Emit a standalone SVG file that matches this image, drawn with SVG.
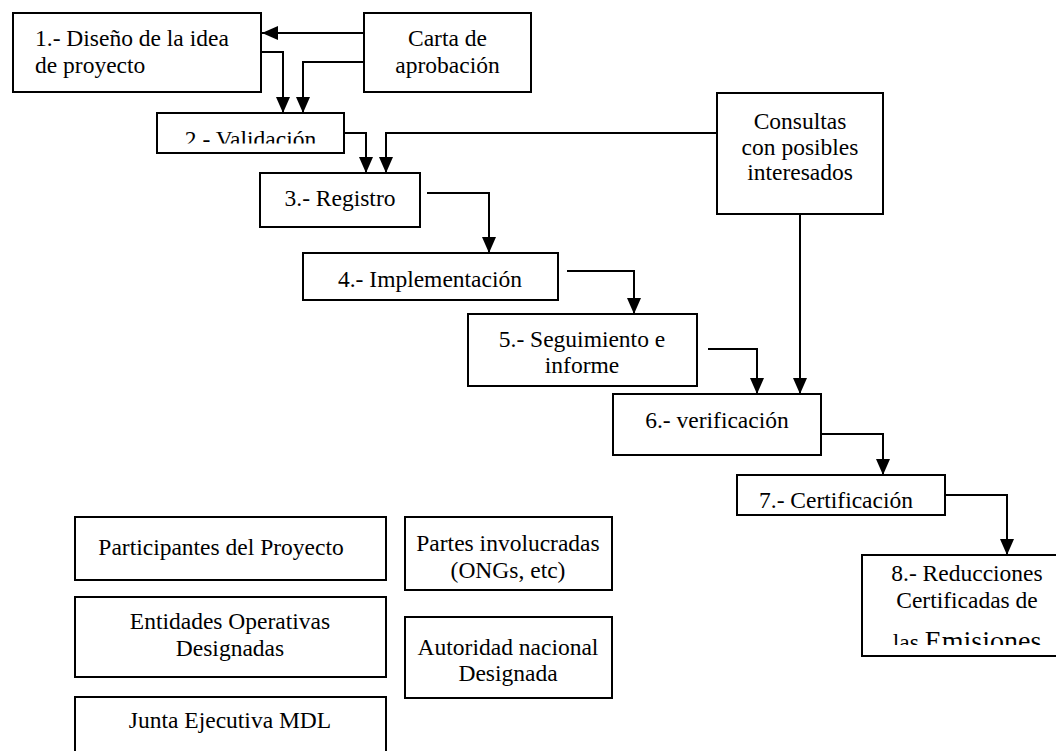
<svg xmlns="http://www.w3.org/2000/svg" width="1056" height="751" viewBox="0 0 1056 751">
<defs>
<style>
.box{fill:#fff;stroke:#000;stroke-width:2}
.t{font-family:'Liberation Serif','DejaVu Serif','Times New Roman',Times,serif;font-size:23.5px;fill:#000}
.c{text-anchor:middle}
.con{fill:none;stroke:#000;stroke-width:2;marker-end:url(#ah)}
</style>
<marker id="ah" markerUnits="userSpaceOnUse" markerWidth="16" markerHeight="14" refX="16" refY="7" orient="auto">
<path d="M0,0 L16,7 L0,14 z" fill="#000"/>
</marker>
<clipPath id="clip2"><rect x="157" y="113" width="187" height="30.5"/></clipPath>
<clipPath id="clip7"><rect x="737" y="470" width="208" height="39"/></clipPath>
<clipPath id="clip8"><rect x="862" y="555" width="200" height="90"/></clipPath>
</defs>
<rect width="1056" height="751" fill="#fff"/>

<g id="n1">
<rect class="box" x="13" y="13" width="248" height="79"/>
<text class="t" x="35" y="46">1.- Diseño de la idea</text>
<text class="t" x="35" y="73">de proyecto</text>
</g>
<g id="carta">
<rect class="box" x="364" y="13" width="167" height="79"/>
<text class="t c" x="447.5" y="46">Carta de</text>
<text class="t c" x="447.5" y="73">aprobación</text>
</g>
<g id="n2">
<rect class="box" x="157" y="113" width="187" height="40"/>
<text class="t c" x="250.5" y="147" clip-path="url(#clip2)">2.- Validación</text>
</g>
<g id="consultas">
<rect class="box" x="717" y="93" width="166" height="121"/>
<text class="t c" x="800" y="129">Consultas</text>
<text class="t c" x="800" y="155">con posibles</text>
<text class="t c" x="800" y="180">interesados</text>
</g>
<g id="n3">
<rect class="box" x="260" y="173" width="160" height="54"/>
<text class="t c" x="340" y="206">3.- Registro</text>
</g>
<g id="n4">
<rect class="box" x="303" y="253" width="255" height="47"/>
<text class="t c" x="430" y="287">4.- Implementación</text>
</g>
<g id="n5">
<rect class="box" x="468" y="314" width="229" height="72"/>
<text class="t c" x="582" y="347">5.- Seguimiento e</text>
<text class="t c" x="582" y="373">informe</text>
</g>
<g id="n6">
<rect class="box" x="613" y="394" width="208" height="61"/>
<text class="t c" x="717" y="428">6.- verificación</text>
</g>
<g id="n7">
<rect class="box" x="737" y="475" width="208" height="40"/>
<text class="t c" x="836" y="508" clip-path="url(#clip7)">7.- Certificación</text>
</g>
<g id="n8">
<rect class="box" x="862" y="555" width="210" height="101"/>
<text class="t c" x="967" y="581">8.- Reducciones</text>
<text class="t c" x="967" y="608">Certificadas de</text>
<text class="t c" x="967" y="650" clip-path="url(#clip8)">las <tspan font-size="28">Emisiones</tspan></text>
</g>

<g id="participantes">
<rect class="box" x="75" y="517" width="311" height="63"/>
<text class="t c" x="221" y="555">Participantes del Proyecto</text>
</g>
<g id="partes">
<rect class="box" x="405" y="517" width="207" height="73"/>
<text class="t c" x="508" y="551">Partes involucradas</text>
<text class="t c" x="508" y="578">(ONGs, etc)</text>
</g>
<g id="entidades">
<rect class="box" x="75" y="597" width="311" height="80"/>
<text class="t c" x="230" y="629">Entidades Operativas</text>
<text class="t c" x="230" y="656">Designadas</text>
</g>
<g id="autoridad">
<rect class="box" x="405" y="617" width="207" height="81"/>
<text class="t c" x="508" y="655">Autoridad nacional</text>
<text class="t c" x="508" y="681">Designada</text>
</g>
<g id="junta">
<rect class="box" x="75" y="697" width="311" height="70"/>
<text class="t c" x="230" y="728">Junta Ejecutiva MDL</text>
</g>

<g id="connectors">
<path class="con" d="M364,33 H262"/>
<path class="con" d="M364,62 H303 V113"/>
<path class="con" d="M261,52 H283 V113"/>
<path class="con" d="M344,133 H366 V173"/>
<path class="con" d="M717,133 H386 V173"/>
<path class="con" d="M427,193 H489 V253"/>
<path class="con" d="M567,271 H634 V314"/>
<path class="con" d="M708,349 H757 V394"/>
<path class="con" d="M800,214 V394"/>
<path class="con" d="M821,434 H883 V475"/>
<path class="con" d="M945,495 H1007 V555"/>
</g>
</svg>
